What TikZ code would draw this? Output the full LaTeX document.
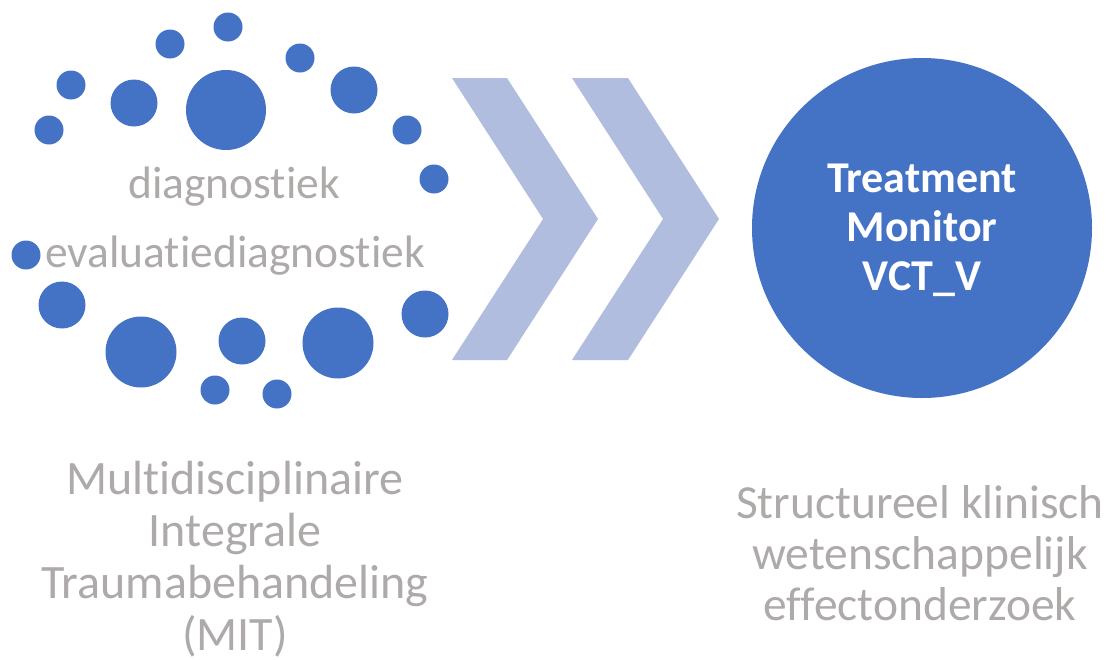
\documentclass[tikz,border=0pt]{standalone}
\usepackage{fontspec}
\setmainfont{Carlito}[Ligatures=NoCommon]
\usepackage{tikz}
\pgfdeclarelayer{edgelayer}
\pgfdeclarelayer{nodelayer}
\pgfsetlayers{edgelayer,nodelayer,main}
\definecolor{dotblue}{RGB}{68,114,196}
\definecolor{chevron}{RGB}{176,189,222}
\definecolor{labelgrey}{RGB}{174,170,170}
\tikzstyle{none} = []
\tikzstyle{Dot Small}=[fill=dotblue, draw=none, shape=circle, inner sep=0pt, minimum size=29pt]
\tikzstyle{Dot Medium}=[fill=dotblue, draw=none, shape=circle, inner sep=0pt, minimum size=47pt]
\tikzstyle{Dot Large}=[fill=dotblue, draw=none, shape=circle, inner sep=0pt, minimum size=71pt]
\tikzstyle{Dot Huge}=[fill=dotblue, draw=none, shape=circle, inner sep=0pt, minimum size=80pt]
\tikzstyle{Monitor Disc}=[fill=dotblue, draw=none, shape=circle, inner sep=0pt, minimum size=340pt]
\tikzstyle{Chevron Fill}=[-, fill=chevron, draw=none]
\tikzstyle{Grey Small}=[text=labelgrey, anchor=base, inner sep=0pt, font=\fontsize{45.5}{54}\selectfont]
\tikzstyle{Grey Block}=[text=labelgrey, anchor=base, inner sep=0pt, align=center]
\tikzstyle{White Bold}=[text=white, anchor=base, inner sep=0pt, align=center, font=\bfseries\fontsize{44}{49}\selectfont]

\begin{document}
\begin{tikzpicture}[x=1pt, y=-1pt]
	\useasboundingbox (0, 0) rectangle (1114, 659);
	\begin{pgfonlayer}{nodelayer}
		% ring of dots
		\node [style=Dot Small] (0) at (228, 27) {};
		\node [style=Dot Small] (1) at (170, 44) {};
		\node [style=Dot Small] (2) at (300, 58) {};
		\node [style=Dot Small] (3) at (71, 85) {};
		\node [style=Dot Medium] (4) at (134, 103) {};
		\node [style=Dot Huge] (5) at (226, 110) {};
		\node [style=Dot Medium] (6) at (354, 90) {};
		\node [style=Dot Small] (7) at (49, 130) {};
		\node [style=Dot Small] (8) at (407, 130) {};
		\node [style=Dot Small] (9) at (434, 179) {};
		\node [style=Dot Small] (10) at (26, 255) {};
		\node [style=Dot Medium] (11) at (62, 305) {};
		\node [style=Dot Large] (12) at (141, 352) {};
		\node [style=Dot Medium] (13) at (242, 341) {};
		\node [style=Dot Large] (14) at (338, 343) {};
		\node [style=Dot Medium] (15) at (425, 314) {};
		\node [style=Dot Small] (16) at (215, 390) {};
		\node [style=Dot Small] (17) at (277, 394) {};
		\node [style=Grey Small] (18) at (234, 198) {diagnostiek};
		\node [style=Grey Small] (19) at (235, 267) {evaluatiediagnostiek};
		% chevron corners
		\node [style=none] (20) at (452, 78) {};
		\node [style=none] (21) at (507, 78) {};
		\node [style=none] (22) at (598, 219) {};
		\node [style=none] (23) at (507, 360) {};
		\node [style=none] (24) at (452, 360) {};
		\node [style=none] (25) at (543, 219) {};
		\node [style=none] (26) at (572, 78) {};
		\node [style=none] (27) at (628, 78) {};
		\node [style=none] (28) at (719, 219) {};
		\node [style=none] (29) at (628, 360) {};
		\node [style=none] (30) at (572, 360) {};
		\node [style=none] (31) at (663, 219) {};
		% monitor (base = last line)
		\node [style=Monitor Disc] (32) at (922, 228) {};
		\node [style=White Bold] (33) at (922, 290) {Treatment\\Monitor\\VCT\_V};
		\node [style=Grey Block, font=\fontsize{48}{52}\selectfont] (34) at (235, 650) {Multidisciplinaire\\Integrale\\Traumabehandeling\\(MIT)};
		\node [style=Grey Block, font=\fontsize{47.5}{51}\selectfont] (35) at (920, 620) {Structureel klinisch\\wetenschappelijk\\effectonderzoek};
	\end{pgfonlayer}
	\begin{pgfonlayer}{edgelayer}
		\draw [style=Chevron Fill] (20.center) to (21.center) to (22.center) to (23.center) to (24.center) to (25.center) to cycle;
		\draw [style=Chevron Fill] (26.center) to (27.center) to (28.center) to (29.center) to (30.center) to (31.center) to cycle;
	\end{pgfonlayer}
\end{tikzpicture}
\end{document}
